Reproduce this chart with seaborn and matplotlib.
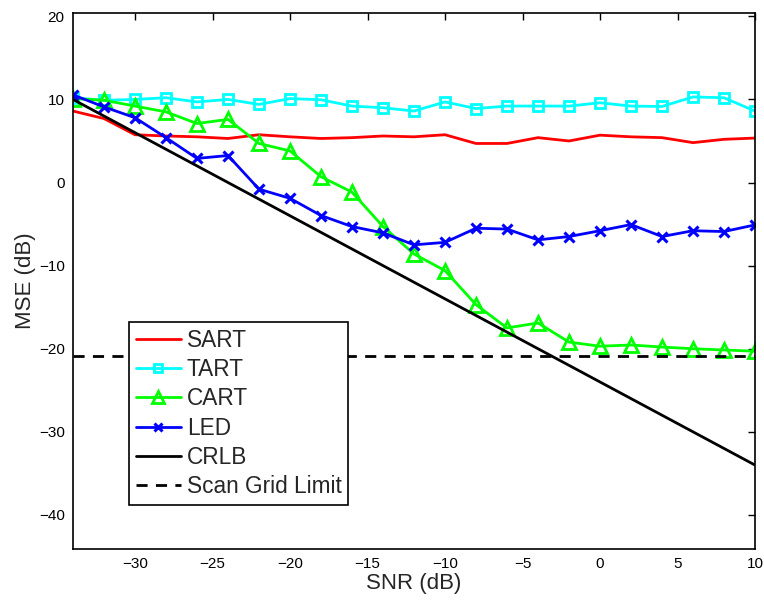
import numpy as np
import pandas as pd
import matplotlib
matplotlib.use("Agg")
import matplotlib.pyplot as plt
import seaborn as sns

snr = list(range(-34, 11, 2))
sart = [8.6, 7.7, 5.75, 5.6, 5.5, 5.3, 5.75, 5.5, 5.3, 5.4, 5.6, 5.5, 5.75,
        4.7, 4.7, 5.4, 5.0, 5.7, 5.5, 5.4, 4.8, 5.2, 5.35]
tart = [10.2, 9.9, 10.0, 10.2, 9.7, 10.0, 9.4, 10.1, 9.96, 9.2, 9.0, 8.6, 9.7,
        8.9, 9.2, 9.2, 9.2, 9.6, 9.2, 9.15, 10.3, 10.2, 8.6]
cart = [10.1, 9.9, 9.2, 8.5, 7.1, 7.6, 4.7, 3.8, 0.7, -1.16, -5.3, -8.6, -10.6,
        -14.7, -17.5, -16.9, -19.2, -19.7, -19.55, -19.8, -20.0, -20.15, -20.3]
led = [10.55, 9.1, 7.8, 5.4, 2.9, 3.25, -0.8, -1.9, -3.97, -5.3, -6.06, -7.5, -7.2,
       -5.5, -5.6, -6.9, -6.5, -5.8, -5.06, -6.5, -5.8, -5.9, -5.1]
crlb = [-s - 24 for s in snr]
scan_x = [-34, 10]
scan_y = [-20.9, -20.9]

sns.set_style("white")
plt.rcParams['font.family'] = ['Liberation Sans', 'DejaVu Sans']

fig = plt.figure(figsize=(7.64, 6.01), dpi=100)
ax = fig.add_axes([73/764, 1 - 549/601, (755-73)/764, (549-13)/601])

lw = 2.0
sns.lineplot(x=snr, y=sart, ax=ax, color=(1, 0, 0), lw=lw, label="SART", sort=False)
sns.lineplot(x=snr, y=tart, ax=ax, color=(0, 1, 1), lw=lw, marker='s', markersize=7,
             markerfacecolor='none', markeredgecolor=(0, 1, 1), markeredgewidth=2,
             label="TART", sort=False)
sns.lineplot(x=snr, y=cart, ax=ax, color=(0, 1, 0), lw=lw, marker='^', markersize=10,
             markerfacecolor='none', markeredgecolor=(0, 1, 0), markeredgewidth=2,
             label="CART", sort=False)
sns.lineplot(x=snr, y=led, ax=ax, color=(0, 0, 1), lw=lw, marker='x', markersize=7,
             markeredgecolor=(0, 0, 1), markeredgewidth=2.2, label="LED", sort=False)
sns.lineplot(x=snr, y=crlb, ax=ax, color='black', lw=lw, label="CRLB", sort=False)
sns.lineplot(x=scan_x, y=scan_y, ax=ax, color='black', lw=lw, linestyle=(0, (4, 3)),
             label="Scan Grid Limit", sort=False)

ax.set_xlim(-34, 10)
ax.set_ylim(-44.1, 20.4)
ax.set_xticks([-30, -25, -20, -15, -10, -5, 0, 5, 10])
ax.set_yticks([-40, -30, -20, -10, 0, 10, 20])
ax.set_xticklabels(['\u221230', '\u221225', '\u221220', '\u221215', '\u221210', '\u22125', '0', '5', '10'])
ax.set_yticklabels(['\u221240', '\u221230', '\u221220', '\u221210', '0', '10', '20'])
ax.tick_params(direction='in', length=5, width=1, top=True, right=True,
               labelsize=11, colors='black', pad=6)
for sp in ax.spines.values():
    sp.set_visible(True)
    sp.set_color('black')
    sp.set_linewidth(1.2)

ax.set_xlabel("SNR (dB)", fontsize=16, labelpad=1)
ax.set_ylabel("MSE (dB)", fontsize=16, labelpad=2)

leg = ax.legend(loc='lower left', bbox_to_anchor=((129-73)/682, (549-505)/536),
                fontsize=16.3, frameon=True, fancybox=False, edgecolor='black',
                handlelength=2.0, handletextpad=0.25, labelspacing=0.28,
                borderpad=0.3, borderaxespad=0, markerscale=0.8)
leg.get_frame().set_linewidth(1.2)
leg.get_frame().set_alpha(1)

fig.savefig("out.png", dpi=100)
